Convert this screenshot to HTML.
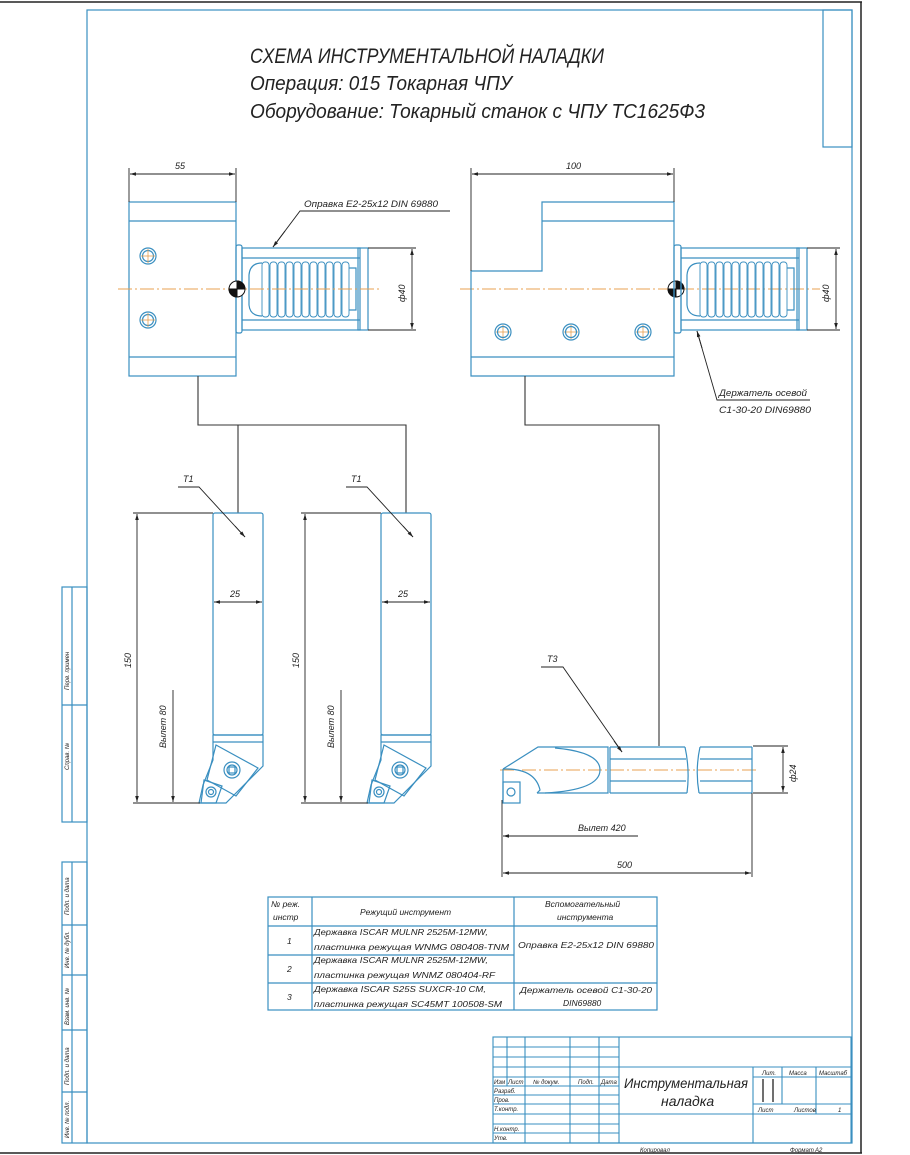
<!DOCTYPE html>
<html><head><meta charset="utf-8"><style>
html,body{margin:0;padding:0;background:#fff;}
svg{display:block;}
text{font-family:"Liberation Sans",sans-serif;font-style:italic;fill:#222;}
</style></head><body>
<svg width="910" height="1155" viewBox="0 0 910 1155" xmlns="http://www.w3.org/2000/svg">
<defs>
<marker id="ar" viewBox="0 0 10 6" refX="10" refY="3" markerWidth="8" markerHeight="4" orient="auto-start-reverse"><path d="M0,0 L10,3 L0,6z" fill="#222"/></marker>
</defs>
<!-- sheet black edge -->
<g fill="none" stroke="#222" stroke-width="1.5">
<line x1="0" y1="2" x2="862" y2="2"/><line x1="861" y1="2" x2="861" y2="1153"/><line x1="0" y1="1153" x2="862" y2="1153"/>
</g>
<!-- frame -->
<g fill="none" stroke="#3a8fc0" stroke-width="1.2">
<rect x="87" y="10" width="765" height="1133"/>
<rect x="823" y="10" width="29" height="137"/>
<!-- stamp column -->
<rect x="62" y="587" width="25" height="235"/><line x1="72" y1="587" x2="72" y2="822"/><line x1="62" y1="705" x2="87" y2="705"/>
<rect x="62" y="862" width="25" height="281"/><line x1="72" y1="862" x2="72" y2="1143"/>
<line x1="62" y1="925" x2="87" y2="925"/><line x1="62" y1="975" x2="87" y2="975"/><line x1="62" y1="1030" x2="87" y2="1030"/><line x1="62" y1="1092" x2="87" y2="1092"/>
</g>
<g font-size="6">
<text transform="translate(69,690) rotate(-90)">Перв. примен</text>
<text transform="translate(69,770) rotate(-90)">Справ. №</text>
<text transform="translate(69,915) rotate(-90)">Подп. и дата</text>
<text transform="translate(69,968) rotate(-90)">Инв. № дубл.</text>
<text transform="translate(69,1025) rotate(-90)">Взам. инв. №</text>
<text transform="translate(69,1085) rotate(-90)">Подп. и дата</text>
<text transform="translate(69,1138) rotate(-90)">Инв. № подл.</text>
</g>
<!-- titles -->
<text x="250" y="63" font-size="21" textLength="354" lengthAdjust="spacingAndGlyphs">СХЕМА ИНСТРУМЕНТАЛЬНОЙ НАЛАДКИ</text>
<text x="250" y="90" font-size="20" textLength="262" lengthAdjust="spacingAndGlyphs">Операция: 015 Токарная ЧПУ</text>
<text x="250" y="118" font-size="20" textLength="455" lengthAdjust="spacingAndGlyphs">Оборудование: Токарный станок с ЧПУ ТС1625Ф3</text>

<!-- LEFT HOLDER -->
<g fill="none" stroke="#3a8fc0" stroke-width="1.2">
<rect x="129" y="202" width="107" height="174"/>
<line x1="129" y1="221" x2="236" y2="221"/><line x1="129" y1="357" x2="236" y2="357"/>
<circle cx="148" cy="256" r="8"/><circle cx="148" cy="256" r="5.5"/>
<circle cx="148" cy="320" r="8"/><circle cx="148" cy="320" r="5.5"/>
<rect x="236" y="245" width="6" height="88" rx="2"/>
<rect x="242" y="248" width="118" height="82"/>
<line x1="242" y1="258" x2="360" y2="258"/><line x1="242" y1="320" x2="360" y2="320"/>
<rect x="358" y="248" width="10" height="82"/>
<path d="M262,263 Q250,263 249,275 L249,305 Q250,316 262,316"/>
<g stroke-width="0.9">
<rect x="262" y="262" width="7" height="55" rx="3"/><rect x="270" y="262" width="7" height="55" rx="3"/><rect x="278" y="262" width="7" height="55" rx="3"/><rect x="286" y="262" width="7" height="55" rx="3"/><rect x="294" y="262" width="7" height="55" rx="3"/><rect x="302" y="262" width="7" height="55" rx="3"/><rect x="310" y="262" width="7" height="55" rx="3"/><rect x="318" y="262" width="7" height="55" rx="3"/><rect x="326" y="262" width="7" height="55" rx="3"/><rect x="334" y="262" width="7" height="55" rx="3"/><rect x="342" y="262" width="7" height="55" rx="3"/>
</g>
<path d="M349,268 L356,268 L356,310 L349,310"/>
</g>
<g stroke="#e8a050" stroke-width="1" stroke-dasharray="14,3,2,3"><line x1="118" y1="289" x2="380" y2="289"/><line x1="460" y1="289" x2="820" y2="289"/><line x1="500" y1="770" x2="758" y2="770"/></g>
<g stroke="#e8a050" stroke-width="0.8"><line x1="141" y1="256" x2="155" y2="256"/><line x1="148" y1="249" x2="148" y2="263"/><line x1="141" y1="320" x2="155" y2="320"/><line x1="148" y1="313" x2="148" y2="327"/>
<line x1="496" y1="332" x2="510" y2="332"/><line x1="503" y1="325" x2="503" y2="339"/><line x1="564" y1="332" x2="578" y2="332"/><line x1="571" y1="325" x2="571" y2="339"/><line x1="636" y1="332" x2="650" y2="332"/><line x1="643" y1="325" x2="643" y2="339"/></g>
<!-- balls -->
<g stroke="#111" stroke-width="1"><circle cx="237" cy="289" r="8" fill="#fff"/><path d="M237,289 L229,289 A8,8 0 0,0 237,297Z" fill="#111"/><path d="M237,289 L237,281 A8,8 0 0,1 245,289Z" fill="#111"/>
<circle cx="676" cy="289" r="8" fill="#fff"/><path d="M676,289 L668,289 A8,8 0 0,0 676,297Z" fill="#111"/><path d="M676,289 L676,281 A8,8 0 0,1 684,289Z" fill="#111"/></g>
<!-- dims left holder -->
<g stroke="#222" stroke-width="0.9" fill="none">
<line x1="129" y1="168" x2="129" y2="202"/><line x1="236" y1="168" x2="236" y2="202"/>
<line x1="130" y1="174" x2="235" y2="174" marker-start="url(#ar)" marker-end="url(#ar)"/>
<line x1="368" y1="248" x2="416" y2="248"/><line x1="368" y1="330" x2="416" y2="330"/>
<line x1="412" y1="249" x2="412" y2="329" marker-start="url(#ar)" marker-end="url(#ar)"/>
<polyline points="450,211 300,211 273,247"/>
<line x1="285" y1="231" x2="273" y2="247" marker-end="url(#ar)"/>
</g>
<text x="175" y="169" font-size="9">55</text>
<text transform="translate(405,302) rotate(-90)" font-size="9">ф40</text>
<text x="304" y="207" font-size="9" textLength="134" lengthAdjust="spacingAndGlyphs">Оправка Е2-25х12 DIN 69880</text>

<!-- RIGHT HOLDER -->
<g fill="none" stroke="#3a8fc0" stroke-width="1.2">
<path d="M471,271 L542,271 L542,202 L674,202 L674,376 L471,376 Z"/>
<line x1="542" y1="221" x2="674" y2="221"/><line x1="471" y1="357" x2="674" y2="357"/>
<circle cx="503" cy="332" r="8"/><circle cx="503" cy="332" r="5.5"/>
<circle cx="571" cy="332" r="8"/><circle cx="571" cy="332" r="5.5"/>
<circle cx="643" cy="332" r="8"/><circle cx="643" cy="332" r="5.5"/>
<rect x="674" y="245" width="7" height="88" rx="2"/>
<rect x="681" y="248" width="118" height="82"/>
<line x1="681" y1="258" x2="799" y2="258"/><line x1="681" y1="320" x2="799" y2="320"/>
<rect x="797" y="248" width="10" height="82"/>
<path d="M700,263 Q688,263 687,275 L687,305 Q688,316 700,316"/>
<g stroke-width="0.9">
<rect x="700" y="262" width="7" height="55" rx="3"/><rect x="708" y="262" width="7" height="55" rx="3"/><rect x="716" y="262" width="7" height="55" rx="3"/><rect x="724" y="262" width="7" height="55" rx="3"/><rect x="732" y="262" width="7" height="55" rx="3"/><rect x="740" y="262" width="7" height="55" rx="3"/><rect x="748" y="262" width="7" height="55" rx="3"/><rect x="756" y="262" width="7" height="55" rx="3"/><rect x="764" y="262" width="7" height="55" rx="3"/><rect x="772" y="262" width="7" height="55" rx="3"/><rect x="780" y="262" width="7" height="55" rx="3"/>
</g>
<path d="M787,268 L794,268 L794,310 L787,310"/>
</g>
<g stroke="#222" stroke-width="0.9" fill="none">
<line x1="471" y1="168" x2="471" y2="271"/><line x1="674" y1="168" x2="674" y2="202"/>
<line x1="472" y1="174" x2="673" y2="174" marker-start="url(#ar)" marker-end="url(#ar)"/>
<line x1="807" y1="248" x2="840" y2="248"/><line x1="807" y1="330" x2="840" y2="330"/>
<line x1="836" y1="249" x2="836" y2="329" marker-start="url(#ar)" marker-end="url(#ar)"/>
<polyline points="810,400 717,400 697,331"/>
<line x1="702" y1="348" x2="697" y2="331" marker-end="url(#ar)"/>
</g>
<text x="566" y="169" font-size="9">100</text>
<text transform="translate(829,302) rotate(-90)" font-size="9">ф40</text>
<text x="719" y="396" font-size="9" textLength="88" lengthAdjust="spacingAndGlyphs">Держатель осевой</text>
<text x="719" y="413" font-size="9" textLength="92" lengthAdjust="spacingAndGlyphs">С1-30-20 DIN69880</text>

<!-- connectors -->
<g stroke="#333" stroke-width="1.1" fill="none">
<polyline points="198,376 198,425 406,425 406,513"/>
<line x1="238" y1="425" x2="238" y2="513"/>
<polyline points="525,376 525,425 659,425 659,746"/>
</g>

<!-- TOOL 1 -->
<g id="tool">
<g fill="none" stroke="#3a8fc0" stroke-width="1.2">
<rect x="213" y="513" width="50" height="222" rx="2"/>
<path d="M213,735 L263,735 L263,766 L226,803 L199,803 L203,785 L213,760 Z"/>
<line x1="213" y1="742" x2="263" y2="742"/>
<path d="M216,745 L258,768 L236,796 L207,780 Z"/>
<circle cx="232" cy="770" r="8"/><circle cx="232" cy="770" r="5"/><rect x="229" y="767" width="6" height="6"/>
<path d="M204,780 L222,786 L216,803 L201,803 Z"/>
<circle cx="211" cy="792" r="5"/><circle cx="211" cy="792" r="2.5"/>
</g>
<g stroke="#222" stroke-width="0.9" fill="none">
<line x1="133" y1="513" x2="213" y2="513"/><line x1="133" y1="803" x2="200" y2="803"/>
<line x1="137" y1="514" x2="137" y2="802" marker-start="url(#ar)" marker-end="url(#ar)"/>
<line x1="173" y1="690" x2="173" y2="802" marker-end="url(#ar)"/>
<line x1="214" y1="602" x2="262" y2="602" marker-start="url(#ar)" marker-end="url(#ar)"/>
<polyline points="178,487 199,487 245,537"/>
<line x1="235" y1="526" x2="245" y2="537" marker-end="url(#ar)"/>
</g>
<text x="230" y="597" font-size="9">25</text>
<text transform="translate(131,668) rotate(-90)" font-size="9">150</text>
<text transform="translate(166,748) rotate(-90)" font-size="9">Вылет 80</text>
<text x="183" y="482" font-size="9">Т1</text>
</g>
<use href="#tool" transform="translate(168,0)"/>

<!-- BORING BAR -->
<g fill="none" stroke="#3a8fc0" stroke-width="1.2">
<path d="M503,769 L538,747 L608,747 L608,793 L537,793"/>
<path d="M503,769 L503,800"/>
<path d="M503,769 Q535,768 540,790 L537,793"/>
<path d="M555,748 Q600,752 600,770 Q600,790 545,793"/>
<rect x="503" y="782" width="17" height="21"/>
<circle cx="511" cy="792" r="4"/>
<line x1="610" y1="747" x2="685" y2="747"/><line x1="610" y1="793" x2="687" y2="793"/>
<line x1="610" y1="759" x2="686" y2="759"/><line x1="610" y1="781" x2="686" y2="781"/>
<line x1="610" y1="747" x2="610" y2="793"/>
<path d="M685,747 Q690,770 687,793"/><path d="M700,747 Q695,770 699,793"/>
<line x1="700" y1="747" x2="752" y2="747"/><line x1="699" y1="793" x2="752" y2="793"/>
<line x1="700" y1="759" x2="752" y2="759"/><line x1="700" y1="781" x2="752" y2="781"/>
<line x1="752" y1="747" x2="752" y2="793"/>
</g>
<g stroke="#222" stroke-width="0.9" fill="none">
<line x1="753" y1="746" x2="788" y2="746"/><line x1="753" y1="793" x2="788" y2="793"/>
<line x1="783" y1="747" x2="783" y2="792" marker-start="url(#ar)" marker-end="url(#ar)"/>
<line x1="502" y1="800" x2="502" y2="877"/><line x1="752" y1="793" x2="752" y2="877"/>
<line x1="638" y1="836" x2="503" y2="836" marker-end="url(#ar)"/>
<line x1="503" y1="873" x2="751" y2="873" marker-start="url(#ar)" marker-end="url(#ar)"/>
<polyline points="541,667 563,667 622,752"/>
<line x1="614" y1="741" x2="622" y2="752" marker-end="url(#ar)"/>
</g>
<text x="547" y="662" font-size="9">Т3</text>
<text transform="translate(796,782) rotate(-90)" font-size="9">ф24</text>
<text x="578" y="831" font-size="9">Вылет 420</text>
<text x="617" y="868" font-size="9">500</text>

<!-- TABLE -->
<g fill="none" stroke="#3a8fc0" stroke-width="1.2">
<rect x="268" y="897" width="389" height="113"/>
<line x1="312" y1="897" x2="312" y2="1010"/><line x1="514" y1="897" x2="514" y2="1010"/>
<line x1="268" y1="926" x2="657" y2="926"/>
<line x1="268" y1="955" x2="514" y2="955"/>
<line x1="268" y1="983" x2="657" y2="983"/>
</g>
<g font-size="8.5">
<text x="271" y="907">№ реж.</text><text x="273" y="920">инстр</text>
<text x="360" y="915">Режущий инструмент</text>
<text x="545" y="907">Вспомогательный</text><text x="557" y="920">инструмента</text>
<text x="287" y="944">1</text><text x="287" y="972">2</text><text x="287" y="1000">3</text>
<text x="314" y="935" textLength="174" lengthAdjust="spacingAndGlyphs">Державка ISCAR MULNR 2525M-12MW,</text>
<text x="314" y="950" textLength="195" lengthAdjust="spacingAndGlyphs">пластинка режущая WNMG 080408-TNM</text>
<text x="314" y="963" textLength="174" lengthAdjust="spacingAndGlyphs">Державка ISCAR MULNR 2525M-12MW,</text>
<text x="314" y="978" textLength="181" lengthAdjust="spacingAndGlyphs">пластинка режущая WNMZ 080404-RF</text>
<text x="314" y="992" textLength="172" lengthAdjust="spacingAndGlyphs">Державка ISCAR S25S SUXCR-10 CM,</text>
<text x="314" y="1007" textLength="188" lengthAdjust="spacingAndGlyphs">пластинка режущая SC45MT 100508-SM</text>
<text x="518" y="948" textLength="136" lengthAdjust="spacingAndGlyphs">Оправка Е2-25х12 DIN 69880</text>
<text x="520" y="993" textLength="132" lengthAdjust="spacingAndGlyphs">Держатель осевой С1-30-20</text>
<text x="563" y="1006">DIN69880</text>
</g>

<!-- TITLE BLOCK -->
<g fill="none" stroke="#3a8fc0" stroke-width="1.1">
<rect x="493" y="1037" width="358" height="106"/>
<line x1="619" y1="1037" x2="619" y2="1143"/>
<line x1="507" y1="1037" x2="507" y2="1086"/>
<line x1="525" y1="1037" x2="525" y2="1143"/>
<line x1="570" y1="1037" x2="570" y2="1143"/>
<line x1="599" y1="1037" x2="599" y2="1143"/>
<line x1="493" y1="1047" x2="619" y2="1047"/><line x1="493" y1="1057" x2="619" y2="1057"/><line x1="493" y1="1067" x2="851" y2="1067"/>
<line x1="493" y1="1077" x2="619" y2="1077"/><line x1="493" y1="1086" x2="619" y2="1086"/><line x1="493" y1="1095" x2="619" y2="1095"/>
<line x1="493" y1="1104" x2="619" y2="1104"/><line x1="493" y1="1114" x2="851" y2="1114"/><line x1="493" y1="1124" x2="619" y2="1124"/>
<line x1="493" y1="1133" x2="619" y2="1133"/>
<line x1="753" y1="1067" x2="753" y2="1143"/>
<line x1="782" y1="1067" x2="782" y2="1104"/><line x1="816" y1="1067" x2="816" y2="1114"/>
<line x1="753" y1="1077" x2="851" y2="1077"/><line x1="753" y1="1104" x2="851" y2="1104"/>
</g>
<g stroke="#333" stroke-width="1.4"><line x1="763" y1="1079" x2="763" y2="1102"/><line x1="773" y1="1079" x2="773" y2="1102"/></g>
<g font-size="6">
<text x="494" y="1084">Изм</text><text x="508" y="1084">Лист</text><text x="533" y="1084">№ докум.</text><text x="578" y="1084">Подп.</text><text x="601" y="1084">Дата</text>
<text x="494" y="1093">Разраб.</text><text x="494" y="1102">Пров.</text><text x="494" y="1111">Т.контр.</text>
<text x="494" y="1131">Н.контр.</text><text x="494" y="1140">Утв.</text>
<text x="762" y="1075">Лит.</text><text x="789" y="1075">Масса</text><text x="819" y="1075">Масштаб</text>
<text x="758" y="1112">Лист</text><text x="794" y="1112">Листов</text><text x="838" y="1112">1</text>
<text x="640" y="1152">Копировал</text><text x="790" y="1152">Формат</text><text x="815" y="1152">А2</text>
</g>
<text x="624" y="1088" font-size="14" textLength="124" lengthAdjust="spacingAndGlyphs">Инструментальная</text>
<text x="661" y="1106" font-size="14">наладка</text>
</svg>
</body></html>
